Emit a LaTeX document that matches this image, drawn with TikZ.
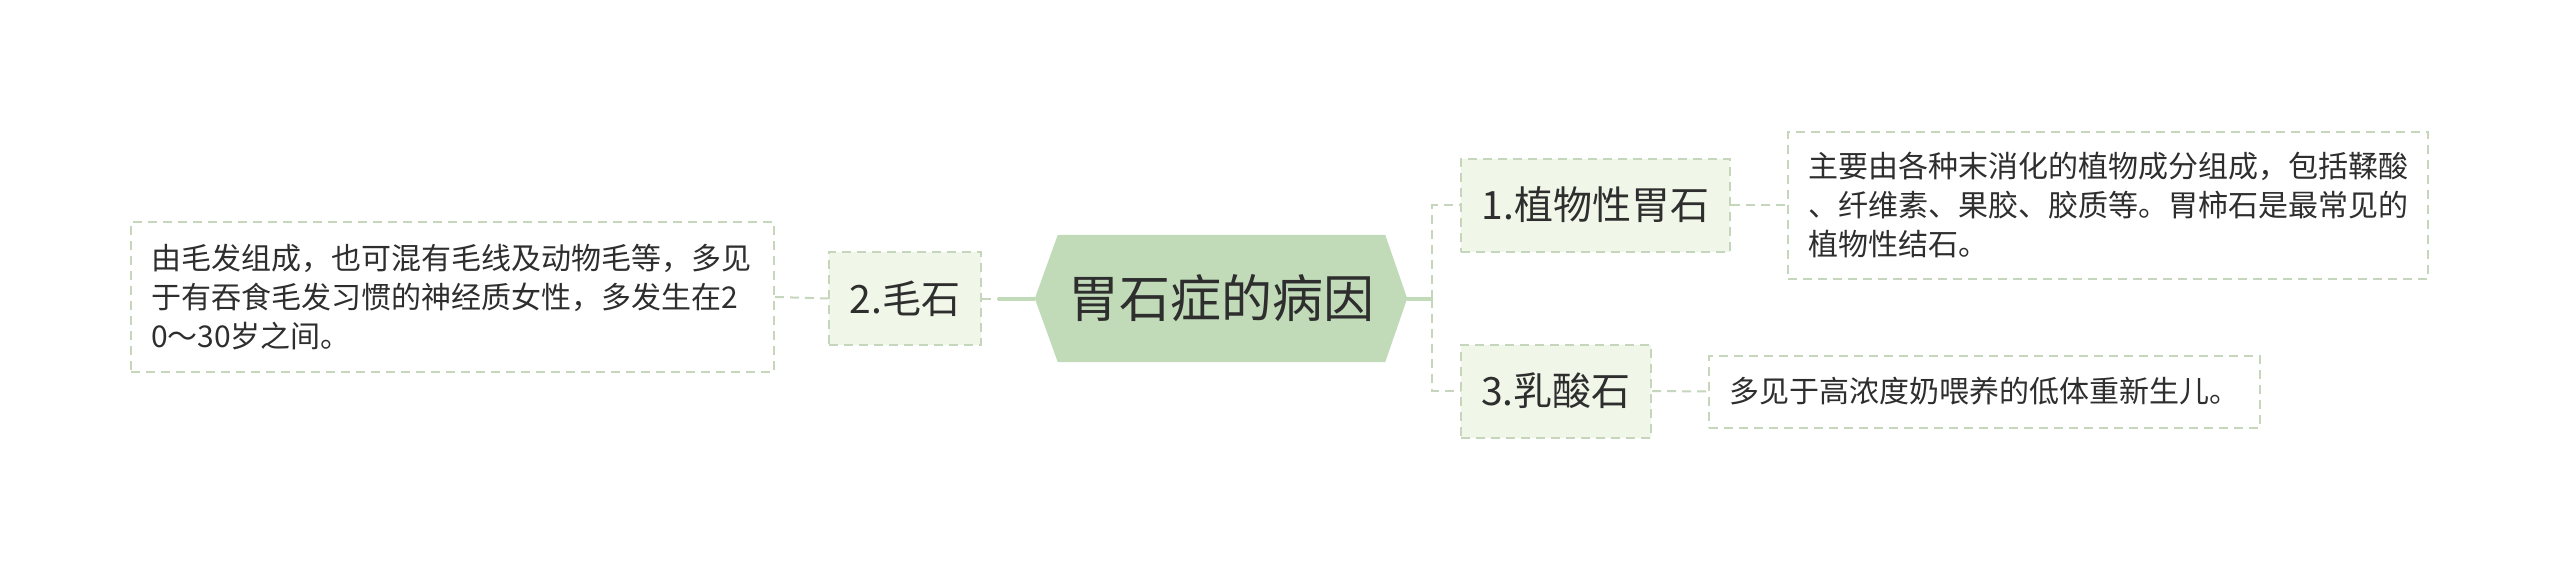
\documentclass[tikz,border=0pt]{standalone}
\usepackage{fontspec}
\setmainfont{Noto Sans CJK SC}
\usetikzlibrary{backgrounds}
\definecolor{hexfill}{HTML}{C1DBB9}
\definecolor{subfill}{HTML}{F0F6E8}
\definecolor{dashc}{HTML}{C5D6BD}
\definecolor{txt}{HTML}{2E2E2E}
\begin{document}
\begin{tikzpicture}[x=1pt,y=-1pt,
  sub/.style={draw=dashc, fill=subfill, line width=2pt, dash pattern=on 9pt off 6pt, minimum height=93pt, inner sep=0pt, text=txt, font=\fontsize{39}{46}\selectfont},
  desc/.style={draw=dashc, line width=2pt, dash pattern=on 9pt off 6pt, inner xsep=20pt, inner ysep=0pt, text=txt, font=\fontsize{30}{39}\selectfont, align=left},
  dconn/.style={draw=dashc, line width=2pt, dash pattern=on 9pt off 6pt},
  sconn/.style={draw=hexfill, line width=4pt}]
\useasboundingbox (0,0) rectangle (2560,568);
% central
\node[minimum width=372pt, minimum height=127pt, inner sep=0pt, font=\fontsize{51}{60}\selectfont, text=txt] (root) at (1221,298.5) {胃石症的病因};
\begin{scope}[on background layer]
\fill[white] (0,0) rectangle (2560,568);
\fill[hexfill] (root.west) -- ([xshift=23pt]root.north west) -- ([xshift=-22pt]root.north east) -- (root.east) -- ([xshift=-22pt]root.south east) -- ([xshift=23pt]root.south west) -- cycle;
\end{scope}
% subtopics
\node[sub, minimum width=269pt] (n1) at (1595.5,205) {1.植物性胃石};
\node[sub, minimum width=190pt] (n3) at (1556,391) {3.乳酸石};
\node[sub, minimum width=152pt] (n2) at (905,298.5) {2.毛石};
% descriptions
\node[desc, text width=600pt, minimum height=147pt] (d1) at (2108,205) {主要由各种末消化的植物成分组成，包括鞣酸\\、纤维素、果胶、胶质等。胃柿石是最常见的\\植物性结石。};
\node[desc, text width=511pt, minimum height=72pt] (d3) at (1984.5,391.5) {多见于高浓度奶喂养的低体重新生儿。};
\node[desc, text width=603pt, minimum height=150pt] (d2) at (452.5,297) {由毛发组成，也可混有毛线及动物毛等，多见\\于有吞食毛发习惯的神经质女性，多发生在2\\0～30岁之间。};
% junctions
\coordinate (jr) at (1432,298.5);
\coordinate (jl) at (998,298.5);
% connectors
\draw[dconn] (n2.east) -- (jl);
\draw[sconn] (jl) -- (root.west);
\draw[sconn] (root.east) -- (jr);
\draw[dconn] (jr) |- (n1.west);
\draw[dconn] (jr) |- (n3.west);
\draw[dconn] (n1.east) -- (d1.west);
\draw[dconn] (n3.east) -- (d3.west);
\draw[dconn] (d2.east) -- (n2.west);
\end{tikzpicture}
\end{document}
